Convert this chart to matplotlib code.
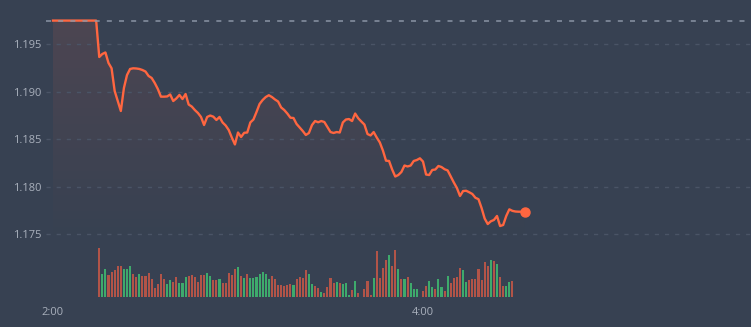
import numpy as np
import matplotlib
matplotlib.use("Agg")
import matplotlib.pyplot as plt
from matplotlib.patches import Polygon

# ---------------- data ----------------
# minutes after 2:00
prices = [
    1.1975, 1.1975, 1.1975, 1.1975, 1.1975, 1.1975, 1.1975, 1.1975, 1.1975, 1.1975,
    1.1975, 1.1975, 1.1975, 1.1975, 1.1975,
    1.19366, 1.19398, 1.19414, 1.19303, 1.19247, 1.19008, 1.18902, 1.18797, 1.19039, 1.19176,
    1.19240, 1.19247, 1.19245, 1.19240, 1.19229, 1.19213, 1.19166, 1.19145, 1.19092, 1.19029,
    1.18948, 1.18948, 1.18950, 1.18971, 1.18902, 1.18929, 1.18966, 1.18923, 1.18976, 1.18865,
    1.18844, 1.18807, 1.18776, 1.18734, 1.18649, 1.18734, 1.18749, 1.18737, 1.18702, 1.18734,
    1.18676, 1.18644, 1.18596, 1.18517, 1.18444, 1.18570, 1.18523, 1.18567, 1.18570, 1.18676,
    1.18707, 1.18786, 1.18871, 1.18913, 1.18944, 1.18963, 1.18944, 1.18918, 1.18897, 1.18834,
    1.18807, 1.18770, 1.18726, 1.18723, 1.18660, 1.18623, 1.18586, 1.18544, 1.18565, 1.18649,
    1.18691, 1.18678, 1.18691, 1.18681, 1.18628, 1.18575, 1.18565, 1.18575, 1.18570, 1.18676,
    1.18707, 1.18712, 1.18691, 1.18770, 1.18720, 1.18686, 1.18654, 1.18554, 1.18539, 1.18575,
    1.18517, 1.18465, 1.18380, 1.18273, 1.18270, 1.18180, 1.18106, 1.18122, 1.18154, 1.18222,
    1.18212, 1.18222, 1.18270, 1.18280, 1.18298, 1.18264, 1.18127, 1.18122, 1.18175, 1.18180,
    1.18217, 1.18206, 1.18183, 1.18170, 1.18106, 1.18043, 1.17985, 1.17901, 1.17953, 1.17956,
    1.17940, 1.17922, 1.17882, 1.17867, 1.17774, 1.17663, 1.17605, 1.17634, 1.17648, 1.17690,
    1.17584, 1.17595, 1.17690, 1.17760, 1.17744, 1.17737, 1.17735, 1.17735, 1.17735,
]
reference_price = 1.19745

# volume bars start at minute 15
volume_start = 15
volumes = [
    49.7, 23.7, 28.7, 22.3, 25.7, 27.7, 31.7, 31.7, 28.7, 28.7,
    31.7, 23.7, 20.7, 23.7, 21.7, 21.7, 24.7, 18.7, 9.7, 13.7,
    23.7, 18.7, 13.7, 17.7, 15.7, 20.7, 14.7, 14.7, 20.7, 21.7,
    22.7, 20.7, 15.7, 22.7, 22.7, 24.7, 21.7, 17.7, 17.7, 18.7,
    14.7, 14.7, 24.7, 22.7, 28.7, 30.7, 21.7, 19.7, 23.7, 19.7,
    19.7, 20.7, 23.7, 25.7, 23.7, 18.7, 21.7, 18.7, 12.7, 12.7,
    11.7, 12.7, 13.7, 12.7, 18.7, 20.7, 19.7,
    27.7, 23.7, 13.7, 11.7, 9.7, 5.7, 4.7, 10.7, 19.7, 14.7,
    15.7, 14.7, 13.7, 14.7, 2.7, 7.7, 16.7, 4.7, 0.7, 8.7,
    16.7, 2.7, 19.7, 46.7, 19.7, 29.7, 37.7, 42.7, 31.7, 47.7,
    28.7, 18.7, 18.7, 20.7, 14.7, 8.7, 8.7, 0.0, 6.7, 11.7,
    16.7, 10.7, 8.7, 18.7, 10.7, 6.7, 21.7, 14.7, 19.7, 20.7,
    29.7, 27.7, 15.7, 17.7, 18.7, 18.7, 28.7, 17.7, 35.7, 31.7,
    37.7, 36.7, 33.7, 20.7, 11.7, 11.7, 15.7, 16.7,
]
volume_up = [
    0, 1, 1, 0, 0, 0, 0, 0, 1, 1,
    1, 0, 0, 1, 0, 0, 0, 0, 0, 0,
    0, 0, 1, 1, 0, 0, 1, 1, 1, 0,
    0, 0, 0, 0, 0, 1, 1, 0, 0, 1,
    0, 0, 0, 0, 0, 1, 0, 1, 0, 1,
    1, 1, 1, 1, 1, 1, 0, 0, 0, 0,
    0, 0, 0, 1, 0, 0, 0,
    0, 1, 1, 0, 0, 1, 0, 0, 0, 0,
    1, 0, 1, 1, 1, 0, 1, 0, 0, 0,
    0, 0, 1, 0, 0, 0, 0, 1, 0, 0,
    1, 0, 1, 0, 1, 1, 1, 1, 0, 0,
    1, 1, 0, 1, 1, 0, 1, 0, 0, 0,
    0, 1, 1, 0, 0, 0, 0, 0, 0, 0,
    1, 0, 1, 0, 0, 1, 1, 0,
]
tick_minutes = [0, 120]
tick_labels = ["2:00", "4:00"]
price_ticks = [1.175, 1.180, 1.185, 1.190, 1.195]

# ---------------- style ----------------
BG = "#374152"
LINE = "#ff6640"
RED = "#b25448"
GREEN = "#3eaa6c"
GRID = "#4a5466"
REF = "#8c96a6"
TXT = "#a9b0bc"

W, H = 751, 327
fig = plt.figure(figsize=(W / 100, H / 100), dpi=100, facecolor=BG)

px_per_min = 3.0833
x0_px = 53.0
left_px, base_px = 46.0, 297.3
xmin = (left_px - x0_px) / px_per_min
xmax = (W - x0_px) / px_per_min
ppu = 9485.0
ytop = 1.195 + 44.3 / ppu
ybot = 1.195 - (base_px - 44.3) / ppu

ax = fig.add_axes([left_px / W, (H - base_px) / H, (W - left_px) / W, base_px / H])
ax.set_facecolor("none")
ax.set_xlim(xmin, xmax)
ax.set_ylim(ybot, ytop)
for s in ax.spines.values():
    s.set_visible(False)

t = np.arange(len(prices))
p = np.array(prices)

# gradient fill under the line
verts = [(t[0], ybot)] + list(zip(t, p)) + [(t[-1], ybot)]
poly = Polygon(verts, closed=True, facecolor="none", edgecolor="none")
ax.add_patch(poly)
ngrad = 256
g_top, g_bot = 1.1975, 1.1740
alphas = np.linspace(0.11, 0.0, ngrad)[:, None]
rgba = np.zeros((ngrad, 1, 4))
rgba[..., 0] = 1.0
rgba[..., 1] = 0.42
rgba[..., 2] = 0.30
rgba[..., 3] = alphas
im = ax.imshow(rgba, extent=[t[0], t[-1], g_bot, g_top], aspect="auto",
               origin="upper", zorder=1, interpolation="bilinear")
im.set_clip_path(poly)
ax.set_xlim(xmin, xmax)
ax.set_ylim(ybot, ytop)

# grid
for yv in price_ticks:
    ax.axhline(yv, color=GRID, lw=1.0, dashes=(3, 4.3), zorder=2)

ax.plot(t, p, color=LINE, lw=1.7, zorder=3, solid_joinstyle="round")
ax.plot([t[-1]], [p[-1]], "o", color=LINE, ms=6.5, zorder=4)
ax.axhline(reference_price, color=REF, lw=1.2, dashes=(3, 4.3), zorder=5, alpha=0.9)

ax.set_yticks(price_ticks)
ax.set_yticklabels([f"{v:.3f}" for v in price_ticks])
ax.set_xticks(tick_minutes)
ax.set_xticklabels(tick_labels)
ax.tick_params(axis="both", length=0, colors=TXT, labelsize=8)
ax.tick_params(axis="y", pad=3)
ax.tick_params(axis="x", pad=7)
for lab in ax.get_xticklabels() + ax.get_yticklabels():
    lab.set_fontfamily("Open Sans")
    lab.set_color(TXT)

# volume axes
axv = fig.add_axes([left_px / W, (H - base_px) / H, (W - left_px) / W, 60 / H])
axv.set_facecolor("none")
axv.set_xlim(xmin, xmax)
axv.set_ylim(0, 60)
axv.axis("off")
vt = np.arange(volume_start, volume_start + len(volumes))
cols = [GREEN if u else RED for u in volume_up]
axv.bar(vt, volumes, width=0.68, color=cols, linewidth=0)

fig.savefig("out.png", dpi=100, facecolor=BG)
